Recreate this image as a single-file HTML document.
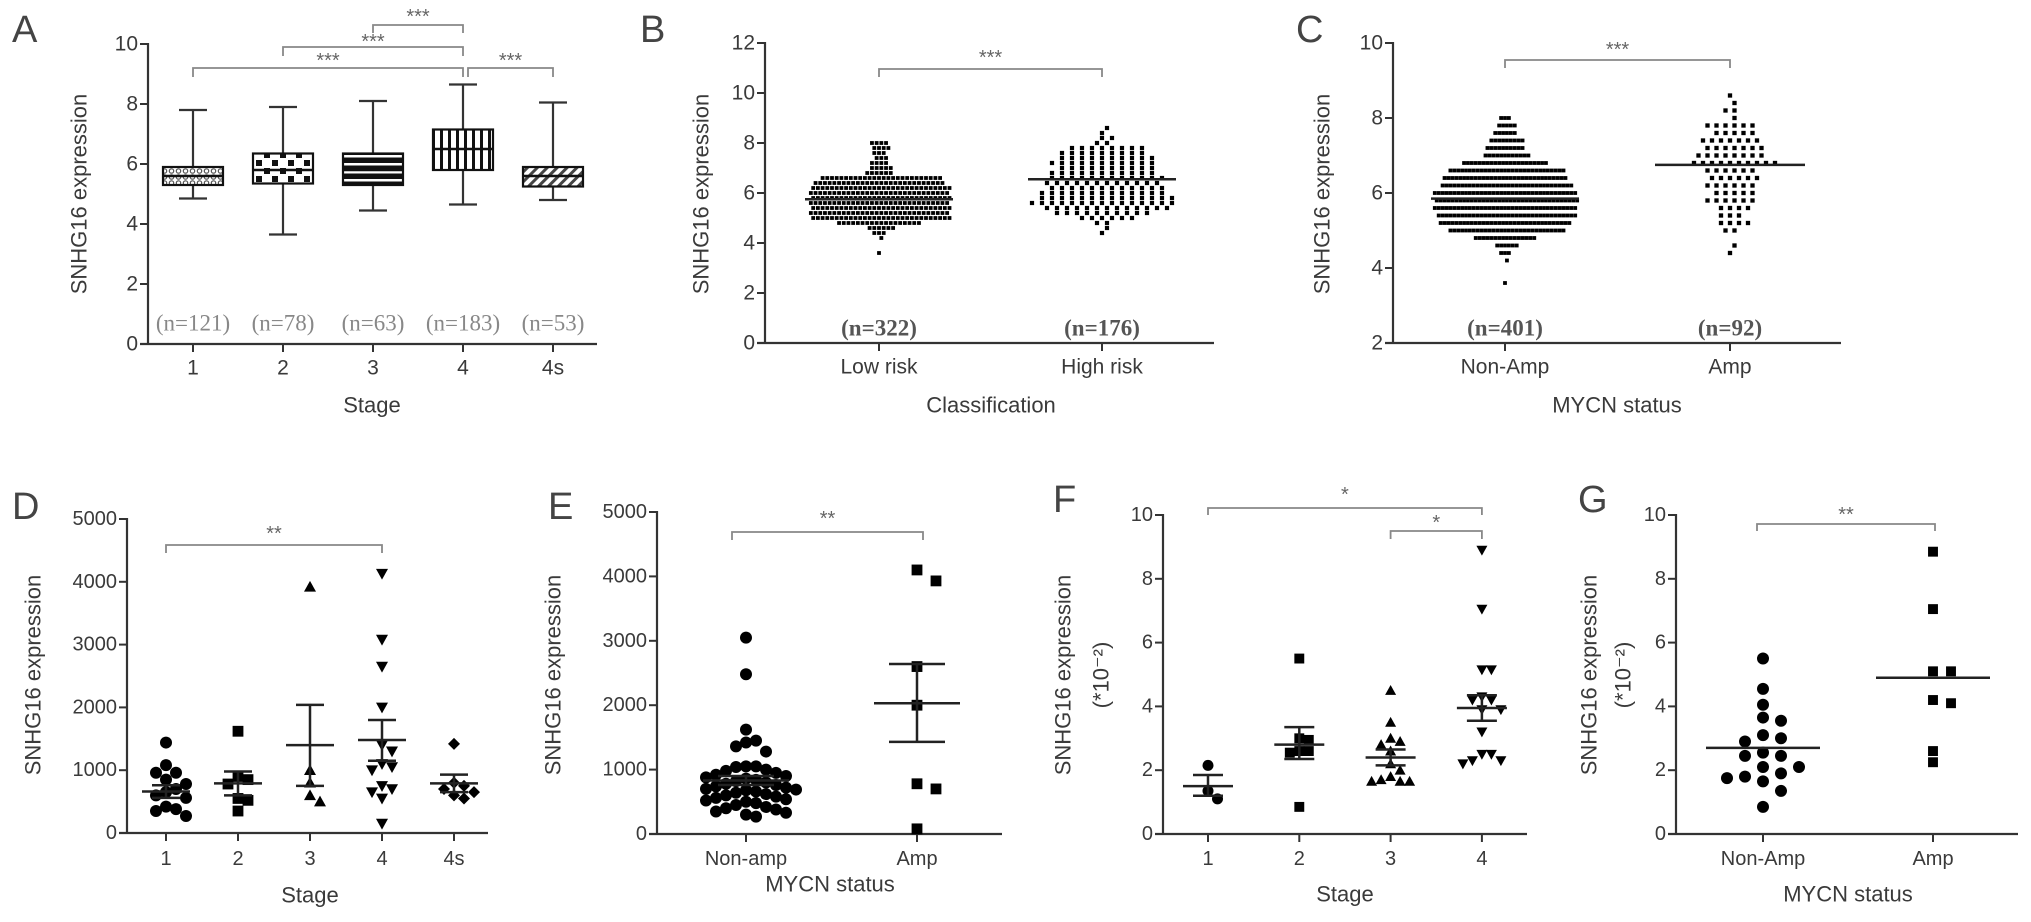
<!DOCTYPE html>
<html><head><meta charset="utf-8"><style>
html,body{margin:0;padding:0;background:#fff}
svg{display:block}
text{font-family:"Liberation Sans",Arial,sans-serif;fill:#3a3a3a}
.tick{font-size:21px}
.btick{font-size:20px}
.title{font-size:22px}
.serif{font-family:"Liberation Serif",serif}
</style></head><body>
<svg id="fig" width="2031" height="922" viewBox="0 0 2031 922">
<defs>
<pattern id="pat1" width="7" height="6" patternUnits="userSpaceOnUse"><rect width="7" height="6" fill="#fff"/><circle cx="3.5" cy="3" r="2.2" fill="none" stroke="#555" stroke-width="1.2"/></pattern>
<pattern id="pat2" width="16" height="16" patternUnits="userSpaceOnUse"><rect width="16" height="16" fill="#fff"/><rect x="0" y="0" width="6" height="6" fill="#111"/><rect x="8" y="8" width="6" height="6" fill="#111"/></pattern>
<pattern id="pat3" width="10" height="8" patternUnits="userSpaceOnUse"><rect width="10" height="8" fill="#111"/><rect y="3" width="10" height="2.5" fill="#fff"/></pattern>
<pattern id="pat4" width="8" height="10" patternUnits="userSpaceOnUse"><rect width="8" height="10" fill="#fff"/><rect x="0" width="3" height="10" fill="#111"/></pattern>
<pattern id="pat5" width="7" height="7" patternUnits="userSpaceOnUse" patternTransform="rotate(45)"><rect width="7" height="7" fill="#fff"/><rect width="3" height="7" fill="#444"/></pattern>
</defs>
</svg>
<script>
// ---------- Panel A (box plots) ----------
const aCats = ["1","2","3","4","4s"];
const aN = ["(n=121)","(n=78)","(n=63)","(n=183)","(n=53)"];
const aMin = [4.85,3.65,4.45,4.65,4.8];
const aQ1 = [5.3,5.35,5.3,5.8,5.25];
const aMed = [5.6,5.8,5.8,6.5,5.6];
const aQ3 = [5.9,6.35,6.35,7.15,5.9];
const aMax = [7.8,7.9,8.1,8.65,8.05];
const aTicks = [0,2,4,6,8,10];
// ---------- Panel B (binned dot rows) ----------
const bCats = ["Low risk","High risk"];
const bN = ["(n=322)","(n=176)"];
const bTicks = [0,2,4,6,8,10,12];
const bLowBins = [3.6,4.2,4.4,4.6,4.8,5.0,5.2,5.4,5.6,5.8,6.0,6.2,6.4,6.6,6.8,7.0,7.2,7.4,7.6,7.8,8.0];
const bLowCounts = [1,1,3,6,18,30,30,30,30,30,30,30,28,26,6,5,4,3,3,4,4];
const bHighBins = [4.4,4.6,4.8,5.0,5.2,5.4,5.6,5.8,6.0,6.2,6.4,6.6,6.8,7.0,7.2,7.4,7.6,7.8,8.0,8.2,8.4,8.6];
const bHighCounts = [1,1,2,6,10,13,15,14,13,12,12,12,11,10,11,10,9,8,2,2,1,1];
const bMeans = [5.75,6.55];
// ---------- Panel C ----------
const cCats = ["Non-Amp","Amp"];
const cN = ["(n=401)","(n=92)"];
const cTicks = [2,4,6,8,10];
const cNonBins = [3.6,4.2,4.4,4.6,4.8,5.0,5.2,5.4,5.6,5.8,6.0,6.2,6.4,6.6,6.8,7.0,7.2,7.4,7.6,7.8,8.0];
const cNonCounts = [1,1,3,6,16,30,34,36,37,37,37,34,32,30,22,12,10,9,6,5,3];
const cAmpBins = [4.4,4.6,5.0,5.2,5.4,5.6,5.8,6.0,6.2,6.4,6.6,6.8,7.0,7.2,7.4,7.6,7.8,8.0,8.2,8.4,8.6];
const cAmpCounts = [1,1,2,4,3,4,6,5,6,6,6,10,8,7,7,5,6,1,2,1,1];
const cMeans = [5.85,6.75];
// ---------- Panel D ----------
const dCats = ["1","2","3","4","4s"];
const dTicks = [0,1000,2000,3000,4000,5000];
const dS1 = [1440,1080,960,960,850,780,700,650,600,560,420,380,350,270];
const dS2 = [1620,900,850,780,550,520,350];
const dS3 = [3920,1000,800,600,500];
const dS4 = [4130,3080,2650,2000,1400,1300,1100,1050,1000,750,700,650,550,150];
const dS4s = [1420,800,750,700,650,600,550];
const dMean = [660,790,1400,1480,790];
const dLo = [560,600,750,1150,650];
const dHi = [760,980,2040,1800,930];
// ---------- Panel E ----------
const eCats = ["Non-amp","Amp"];
const eTicks = [0,1000,2000,3000,4000,5000];
const eNon = [3050,2480,1620,1450,1420,1360,1280,1050,1050,1040,1000,980,950,920,900,880,860,840,820,800,780,760,740,720,700,690,680,660,640,620,600,580,560,540,520,500,480,450,420,400,380,350,330,300,270];
const eAmp = [4100,3930,2600,2000,780,700,80];
const eMean = [830,2030];
const eLo = [760,1430];
const eHi = [900,2640];
// ---------- Panel F ----------
const fCats = ["1","2","3","4"];
const fTicks = [0,2,4,6,8,10];
const fS1 = [2.15,1.35,1.1];
const fS2 = [5.5,3.0,2.95,2.6,2.55,2.6,0.85];
const fS3 = [4.5,3.5,3.0,2.9,2.8,2.6,2.2,2.0,1.8,1.65,1.65,1.65,1.7];
const fS4 = [8.9,7.05,5.15,5.15,4.3,4.2,4.2,3.9,3.9,3.2,2.5,2.5,2.3,2.2,2.3];
const fMean = [1.5,2.8,2.4,3.95];
const fLo = [1.2,2.35,2.15,3.55];
const fHi = [1.85,3.35,2.65,4.35];
// ---------- Panel G ----------
const gCats = ["Non-Amp","Amp"];
const gTicks = [0,2,4,6,8,10];
const gNon = [5.5,4.55,4.05,3.65,3.55,3.1,3.0,2.9,2.55,2.45,2.45,2.1,2.1,1.9,1.75,1.65,1.8,1.35,0.85];
const gAmp = [8.85,7.05,5.1,5.1,4.2,4.1,2.6,2.25];
const gMed = [2.7,4.9];

const NS="http://www.w3.org/2000/svg";
const svg=document.getElementById('fig');
function el(tag,attrs,parent){const e=document.createElementNS(NS,tag);for(const k in attrs)e.setAttribute(k,attrs[k]);(parent||svg).appendChild(e);return e;}
function txt(s,x,y,cls,anchor,parent){const t=el('text',{x:x,y:y,'class':cls,'text-anchor':anchor||'middle','dominant-baseline':'central'},parent);t.textContent=s;return t;}

function makePanel(name,cfg){
  const g=el('g',{});
  
  
  const ys=v=>cfg.yB+(v-cfg.ymin)/(cfg.ymax-cfg.ymin)*(cfg.yT-cfg.yB);
  const xs=i=>cfg.c0+cfg.cs*i;
  const ya=el('line',{x1:cfg.x0,y1:cfg.yT-1,x2:cfg.x0,y2:cfg.yB,stroke:'#333','stroke-width':2.2},g);
  
  const xa=el('line',{x1:cfg.x0-8,y1:cfg.yB,x2:cfg.xE,y2:cfg.yB,stroke:'#333','stroke-width':2.2},g);
  
  cfg.ticks.forEach(v=>{
    el('line',{x1:cfg.x0-8,y1:ys(v),x2:cfg.x0,y2:ys(v),stroke:'#333','stroke-width':2},g);
    const t=txt(String(v),cfg.x0-10,ys(v),cfg.tcls,'end',g);
    
    
  });
  cfg.cats.forEach((c,i)=>{
    el('line',{x1:xs(i),y1:cfg.yB,x2:xs(i),y2:cfg.yB+8,stroke:'#333','stroke-width':2},g);
    const t=txt(c,xs(i),cfg.xlY,cfg.tcls,'middle',g);
    
    
  });
  const xt=txt(cfg.xTitle,cfg.xtX,cfg.xtY,'title','middle',g);
  
  cfg.yTitles.forEach(([s,x])=>{
    const t=txt(s,x,cfg.ytY,'title','middle',g);
    t.setAttribute('transform','rotate(-90 '+x+' '+cfg.ytY+')');
    
    
  });
  const L=txt(cfg.letter,cfg.lx,cfg.ly,'','start',g);
  L.setAttribute('style','font-size:38px;fill:#444');
  
  return {g,ys,xs};
}
function bracket(g,x1,x2,y,drop,label,ly,fs){
  const p=el('path',{d:`M${x1} ${y+drop}V${y}H${x2}V${y+drop}`,fill:'none',stroke:'#888','stroke-width':1.8},g);
  
  const t=txt(label,(x1+x2)/2,ly,'','middle',g);t.setAttribute('style','font-size:'+(fs||20)+'px;fill:#666');
  
}
function marker(g,shape,x,y,s){
  let m;
  const h=s/2;
  if(shape==='circle')m=el('circle',{cx:x,cy:y,r:h,fill:'#000'},g);
  else if(shape==='square')m=el('rect',{x:x-h*0.9,y:y-h*0.9,width:s*0.9,height:s*0.9,fill:'#000'},g);
  else if(shape==='up')m=el('polygon',{points:`${x},${y-h} ${x+h},${y+h*0.8} ${x-h},${y+h*0.8}`,fill:'#000'},g);
  else if(shape==='down')m=el('polygon',{points:`${x},${y+h} ${x+h},${y-h*0.8} ${x-h},${y-h*0.8}`,fill:'#000'},g);
  else m=el('polygon',{points:`${x},${y-h} ${x+h},${y} ${x},${y+h} ${x-h},${y}`,fill:'#000'},g);
  
  
}
function swarm(g,vals,cx,ys,shape,size,step){
  const pts=vals.map(v=>ys(v)).sort((a,b)=>a-b);const placed=[];
  pts.forEach(y=>{
    for(let k=0;k<40;k++){
      const off=(k===0?0:(k%2?1:-1)*Math.ceil(k/2))*step;const x=cx+off;
      if(!placed.some(p=>Math.abs(p[1]-y)<size*0.95&&Math.abs(p[0]-x)<step*0.95)){placed.push([x,y]);marker(g,shape,x,y,size);break;}
    }
  });
}
function meanErr(g,cx,ys,mean,lo,hi,mw,cw){
  const a=el('line',{x1:cx-mw,y1:ys(mean),x2:cx+mw,y2:ys(mean),stroke:'#222','stroke-width':2.5},g);
  
  if(lo!=null){
    const b=el('path',{d:`M${cx} ${ys(lo)}V${ys(hi)}M${cx-cw} ${ys(lo)}H${cx+cw}M${cx-cw} ${ys(hi)}H${cx+cw}`,stroke:'#222','stroke-width':2.5,fill:'none'},g);
    
  }
}
function rows(g,bins,counts,cx,ys,sp,sz){
  bins.forEach((b,i)=>{const c=counts[i];const sh=(i%2)?sp/2:0;for(let j=0;j<c;j++){
    const r=el('rect',{x:cx+(j-(c-1)/2)*sp+sh-sz/2,y:ys(b)-sz/2,width:sz,height:sz,fill:'#000'},g);
    
    
  }});
}

// Panel A
(function(){
  const P=makePanel('panel-a-stage-boxplot',{x0:148,xE:597,yT:44,yB:344,ymin:0,ymax:10,ticks:aTicks,cats:aCats,c0:193,cs:90,tcls:'tick',xlY:368,xTitle:'Stage',xtX:372,xtY:405,yTitles:[['SNHG16 expression',79]],ytY:194,letter:'A',lx:12,ly:30});
  const pats=['pat1','pat2','pat3','pat4','pat5'];
  aCats.forEach((c,i)=>{
    const x=P.xs(i);
    const w=el('path',{d:`M${x} ${P.ys(aMax[i])}V${P.ys(aQ3[i])}M${x} ${P.ys(aQ1[i])}V${P.ys(aMin[i])}M${x-14} ${P.ys(aMax[i])}H${x+14}M${x-14} ${P.ys(aMin[i])}H${x+14}`,stroke:'#333','stroke-width':2.2,fill:'none'},P.g);
    
    const b=el('rect',{x:x-30,y:P.ys(aQ3[i]),width:60,height:P.ys(aQ1[i])-P.ys(aQ3[i]),fill:'url(#'+pats[i]+')',stroke:'#111','stroke-width':2.2},P.g);
    
    const m=el('line',{x1:x-30,x2:x+30,y1:P.ys(aMed[i]),y2:P.ys(aMed[i]),stroke:'#111','stroke-width':2.5},P.g);
    
    const n=txt(aN[i],x,323,'serif','middle',P.g);n.setAttribute('style','font-size:23px;fill:#888');
    
  });
  bracket(P.g,P.xs(2),P.xs(3),25,8,'***',17);
  bracket(P.g,P.xs(1),P.xs(3),47,9,'***',42);
  bracket(P.g,P.xs(0),P.xs(3),68,9,'***',61);
  bracket(P.g,P.xs(3)+5,P.xs(4),68,9,'***',61);
})();
// Panel B
(function(){
  const P=makePanel('panel-b-risk-scatter',{x0:765,xE:1214,yT:43,yB:343,ymin:0,ymax:12,ticks:bTicks,cats:bCats,c0:879,cs:223,tcls:'tick',xlY:367,xTitle:'Classification',xtX:991,xtY:405,yTitles:[['SNHG16 expression',701]],ytY:194,letter:'B',lx:640,ly:30});
  rows(P.g,bLowBins,bLowCounts,P.xs(0),P.ys,4.7,3.8);
  rows(P.g,bHighBins,bHighCounts,P.xs(1),P.ys,10,4.2);
  bMeans.forEach((m,i)=>meanErr(P.g,P.xs(i),P.ys,m,null,null,74,0));
  bN.forEach((s,i)=>{const n=txt(s,P.xs(i),328,'serif','middle',P.g);n.setAttribute('style','font-size:23px;font-weight:bold;fill:#555');});
  bracket(P.g,P.xs(0),P.xs(1),69,8,'***',58);
})();
// Panel C
(function(){
  const P=makePanel('panel-c-mycn-scatter',{x0:1393,xE:1841,yT:43,yB:343,ymin:2,ymax:10,ticks:cTicks,cats:cCats,c0:1505,cs:225,tcls:'tick',xlY:367,xTitle:'MYCN status',xtX:1617,xtY:405,yTitles:[['SNHG16 expression',1322]],ytY:194,letter:'C',lx:1296,ly:30});
  rows(P.g,cNonBins,cNonCounts,P.xs(0),P.ys,3.9,3.8);
  rows(P.g,cAmpBins,cAmpCounts,P.xs(1),P.ys,9,4.3);
  meanErr(P.g,P.xs(0),P.ys,cMeans[0],null,null,74,0);
  meanErr(P.g,P.xs(1),P.ys,cMeans[1],null,null,75,0);
  cN.forEach((s,i)=>{const n=txt(s,P.xs(i),328,'serif','middle',P.g);n.setAttribute('style','font-size:23px;font-weight:bold;fill:#555');});
  bracket(P.g,P.xs(0),P.xs(1),60,8,'***',50);
})();
// Panel D
(function(){
  const P=makePanel('panel-d-stage-dotplot',{x0:127,xE:488,yT:519,yB:833,ymin:0,ymax:5000,ticks:dTicks,cats:dCats,c0:166,cs:72,tcls:'btick',xlY:859,xTitle:'Stage',xtX:310,xtY:895,yTitles:[['SNHG16 expression',33]],ytY:675,letter:'D',lx:12,ly:507});
  const sets=[dS1,dS2,dS3,dS4,dS4s],sh=['circle','square','up','down','diamond'];
  sets.forEach((s,i)=>swarm(P.g,s,P.xs(i),P.ys,sh[i],12,10));
  dMean.forEach((m,i)=>meanErr(P.g,P.xs(i),P.ys,m,dLo[i],dHi[i],24,14));
  bracket(P.g,P.xs(0),P.xs(3),545,8,'**',534);
})();
// Panel E
(function(){
  const P=makePanel('panel-e-mycn-dotplot',{x0:657,xE:1002,yT:512,yB:834,ymin:0,ymax:5000,ticks:eTicks,cats:eCats,c0:746,cs:171,tcls:'btick',xlY:859,xTitle:'MYCN status',xtX:830,xtY:884,yTitles:[['SNHG16 expression',553]],ytY:675,letter:'E',lx:548,ly:507});
  swarm(P.g,eNon,P.xs(0),P.ys,'circle',12,10);
  swarm(P.g,eAmp,P.xs(1),P.ys,'square',12,19);
  eMean.forEach((m,i)=>meanErr(P.g,P.xs(i),P.ys,m,eLo[i],eHi[i],43,28));
  bracket(P.g,732,923,532,8,'**',519);
})();
// Panel F
(function(){
  const P=makePanel('panel-f-stage-dotplot',{x0:1163,xE:1527,yT:515,yB:834,ymin:0,ymax:10,ticks:fTicks,cats:fCats,c0:1208,cs:91.3,tcls:'btick',xlY:859,xTitle:'Stage',xtX:1345,xtY:894,yTitles:[['SNHG16 expression',1063],['(*10\u207B\u00B2)',1101]],ytY:675,letter:'F',lx:1053,ly:500});
  const sets=[fS1,fS2,fS3,fS4],sh=['circle','square','up','down'];
  sets.forEach((s,i)=>swarm(P.g,s,P.xs(i),P.ys,sh[i],11,9.5));
  fMean.forEach((m,i)=>meanErr(P.g,P.xs(i),P.ys,m,fLo[i],fHi[i],25,15));
  bracket(P.g,P.xs(0),P.xs(3),508,7,'*',495);
  bracket(P.g,P.xs(2),P.xs(3),531,8,'*',523);
})();
// Panel G
(function(){
  const P=makePanel('panel-g-mycn-dotplot',{x0:1676,xE:2018,yT:515,yB:834,ymin:0,ymax:10,ticks:gTicks,cats:gCats,c0:1763,cs:170,tcls:'btick',xlY:859,xTitle:'MYCN status',xtX:1848,xtY:894,yTitles:[['SNHG16 expression',1589],['(*10\u207B\u00B2)',1623]],ytY:675,letter:'G',lx:1578,ly:500});
  swarm(P.g,gNon,P.xs(0),P.ys,'circle',12,18);
  swarm(P.g,gAmp,P.xs(1),P.ys,'square',11,18);
  gMed.forEach((m,i)=>meanErr(P.g,P.xs(i),P.ys,m,null,null,57,0));
  bracket(P.g,1757,1935,524,7,'**',515);
})();
</script>
</body></html>
